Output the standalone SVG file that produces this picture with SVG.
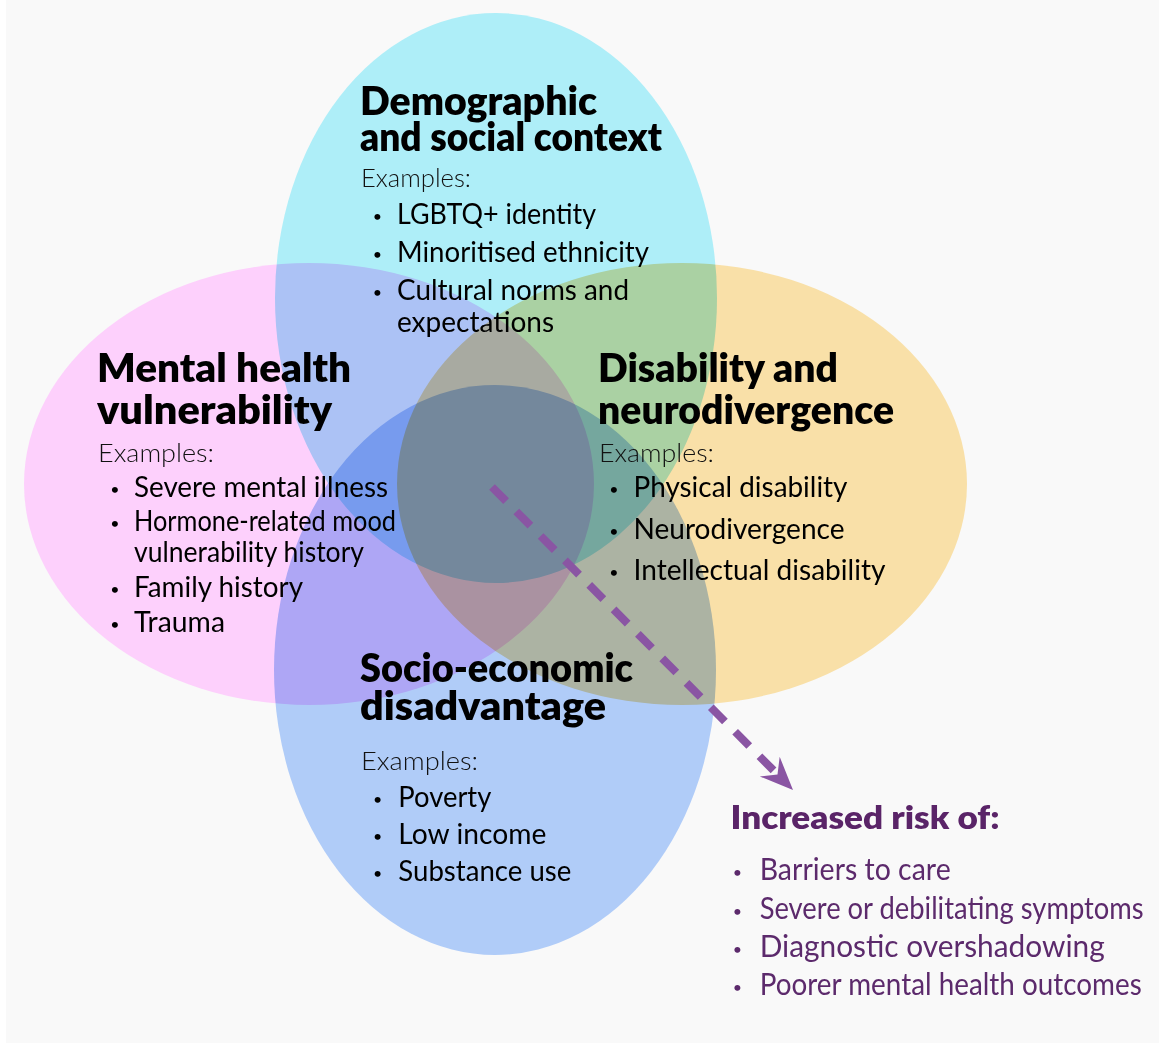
<svg xmlns="http://www.w3.org/2000/svg" width="1159" height="1045" viewBox="0 0 1159 1045">
  <defs>
    <style>
      .set { mix-blend-mode: multiply; }
      .head { font-family: Lato, "Open Sans", sans-serif; font-weight: 800; font-size: 39px; fill: #000; }
      .ex { font-family: Lato, "Open Sans", sans-serif; font-weight: 300; font-size: 25.5px; fill: #111; }
      .item { font-family: Lato, "Open Sans", sans-serif; font-weight: 400; font-size: 28.5px; fill: #000; }
      .dot { font-family: Lato, "Open Sans", sans-serif; font-size: 16px; fill: #000; text-anchor: middle; }
      .risk-head { font-family: Lato, "Open Sans", sans-serif; font-weight: 800; font-size: 32.5px; fill: #5a2468; }
      .risk { font-family: Lato, "Open Sans", sans-serif; font-weight: 400; font-size: 30px; fill: #5c2a6c; }
      .risk-dot { font-family: Lato, "Open Sans", sans-serif; font-size: 16px; fill: #5c2a6c; text-anchor: middle; }
      .flow { fill: none; stroke: #8a55a3; stroke-width: 8; stroke-dasharray: 20 14.5; }
    </style>
    <marker id="head" markerUnits="userSpaceOnUse" viewBox="-15 -16 40 32" refX="0" refY="0" markerWidth="40" markerHeight="32" orient="auto" overflow="visible">
      <path d="M22,0 L-11,-14 L0,0 L-11,14 Z" fill="#8a55a3"/>
    </marker>
  </defs>

  <!-- page -->
  <rect x="0" y="0" width="1159" height="1045" fill="#ffffff"/>
  <rect x="6" y="0" width="1153" height="1043" fill="#f9f9f9"/>

  <!-- overlapping sets -->
  <g id="sets" style="isolation:isolate">
    <ellipse id="set-demographic" class="set" cx="496" cy="298" rx="221" ry="285" fill="#aeeef8"/>
    <ellipse id="set-mental" class="set" cx="309" cy="484" rx="285" ry="221" fill="#fdd0fc"/>
    <ellipse id="set-disability" class="set" cx="682" cy="484" rx="285" ry="221" fill="#f9e0a8"/>
    <ellipse id="set-socio" class="set" cx="495" cy="670" rx="221" ry="285" fill="#b0ccf8"/>
  </g>

  <!-- Demographic and social context -->
  <g id="demographic">
    <text class="head" x="360" y="115" textLength="237" lengthAdjust="spacingAndGlyphs">Demographic</text>
    <text class="head" x="360" y="151" textLength="302" lengthAdjust="spacingAndGlyphs">and social context</text>
    <text class="ex" x="361" y="186.5" textLength="110" lengthAdjust="spacingAndGlyphs">Examples:</text>
    <text class="dot" x="377.3" y="222">•</text>
    <text class="item" x="397" y="224" textLength="199" lengthAdjust="spacingAndGlyphs">LGBTQ+ identity</text>
    <text class="dot" x="377.3" y="260">•</text>
    <text class="item" x="397" y="262" textLength="252" lengthAdjust="spacingAndGlyphs">Minoritised ethnicity</text>
    <text class="dot" x="377.3" y="298">•</text>
    <text class="item" x="397" y="300" textLength="232" lengthAdjust="spacingAndGlyphs">Cultural norms and</text>
    <text class="item" x="397" y="332" textLength="157" lengthAdjust="spacingAndGlyphs">expectations</text>
  </g>

  <!-- Mental health vulnerability -->
  <g id="mental-health">
    <text class="head" x="97" y="381.5" textLength="254" lengthAdjust="spacingAndGlyphs">Mental health</text>
    <text class="head" x="97" y="423.5" textLength="235" lengthAdjust="spacingAndGlyphs">vulnerability</text>
    <text class="ex" x="98" y="461.5" textLength="116" lengthAdjust="spacingAndGlyphs">Examples:</text>
    <text class="dot" x="115" y="494.5">•</text>
    <text class="item" x="134" y="496.5" textLength="254" lengthAdjust="spacingAndGlyphs">Severe mental illness</text>
    <text class="dot" x="115" y="529">•</text>
    <text class="item" x="134" y="531" textLength="262" lengthAdjust="spacingAndGlyphs">Hormone-related mood</text>
    <text class="item" x="134" y="561.5" textLength="230" lengthAdjust="spacingAndGlyphs">vulnerability history</text>
    <text class="dot" x="115" y="594.5">•</text>
    <text class="item" x="134" y="596.5" textLength="169" lengthAdjust="spacingAndGlyphs">Family history</text>
    <text class="dot" x="115" y="629.5">•</text>
    <text class="item" x="134" y="631.5" textLength="91" lengthAdjust="spacingAndGlyphs">Trauma</text>
  </g>

  <!-- Disability and neurodivergence -->
  <g id="disability">
    <text class="head" x="598" y="381.5" textLength="240" lengthAdjust="spacingAndGlyphs">Disability and</text>
    <text class="head" x="598" y="424" textLength="296" lengthAdjust="spacingAndGlyphs">neurodivergence</text>
    <text class="ex" x="599" y="461.5" textLength="115" lengthAdjust="spacingAndGlyphs">Examples:</text>
    <text class="dot" x="614" y="494.5">•</text>
    <text class="item" x="633.5" y="496.5" textLength="214" lengthAdjust="spacingAndGlyphs">Physical disability</text>
    <text class="dot" x="614" y="536.5">•</text>
    <text class="item" x="633.5" y="538.5" textLength="211" lengthAdjust="spacingAndGlyphs">Neurodivergence</text>
    <text class="dot" x="614" y="578">•</text>
    <text class="item" x="633.5" y="580" textLength="252" lengthAdjust="spacingAndGlyphs">Intellectual disability</text>
  </g>

  <!-- Socio-economic disadvantage -->
  <g id="socio-economic">
    <text class="head" x="360" y="681.5" textLength="273" lengthAdjust="spacingAndGlyphs">Socio-economic</text>
    <text class="head" x="360" y="720" textLength="246" lengthAdjust="spacingAndGlyphs">disadvantage</text>
    <text class="ex" x="361" y="770" textLength="117" lengthAdjust="spacingAndGlyphs">Examples:</text>
    <text class="dot" x="377.7" y="804.5">•</text>
    <text class="item" x="398.3" y="806.5" textLength="93" lengthAdjust="spacingAndGlyphs">Poverty</text>
    <text class="dot" x="377.7" y="841.5">•</text>
    <text class="item" x="398.3" y="843.5" textLength="148" lengthAdjust="spacingAndGlyphs">Low income</text>
    <text class="dot" x="377.7" y="878.5">•</text>
    <text class="item" x="398.3" y="880.5" textLength="173" lengthAdjust="spacingAndGlyphs">Substance use</text>
  </g>

  <!-- outcomes -->
  <g id="increased-risk">
    <text class="risk-head" x="730.5" y="829" textLength="269" lengthAdjust="spacingAndGlyphs">Increased risk of:</text>
    <text class="risk-dot" x="737.3" y="878">•</text>
    <text class="risk" x="759.7" y="880" textLength="191" lengthAdjust="spacingAndGlyphs">Barriers to care</text>
    <text class="risk-dot" x="737.3" y="916.5">•</text>
    <text class="risk" x="759.7" y="918.5" textLength="384" lengthAdjust="spacingAndGlyphs">Severe or debilitating symptoms</text>
    <text class="risk-dot" x="737.3" y="954.5">•</text>
    <text class="risk" x="759.7" y="956.5" textLength="345" lengthAdjust="spacingAndGlyphs">Diagnostic overshadowing</text>
    <text class="risk-dot" x="737.3" y="993">•</text>
    <text class="risk" x="759.7" y="995" textLength="382" lengthAdjust="spacingAndGlyphs">Poorer mental health outcomes</text>
  </g>

  <!-- connector from the shared centre to the outcomes -->
  <g id="connectors">
    <path class="flow" d="M492,487 L777.5,774.4" marker-end="url(#head)"/>
  </g>
</svg>
